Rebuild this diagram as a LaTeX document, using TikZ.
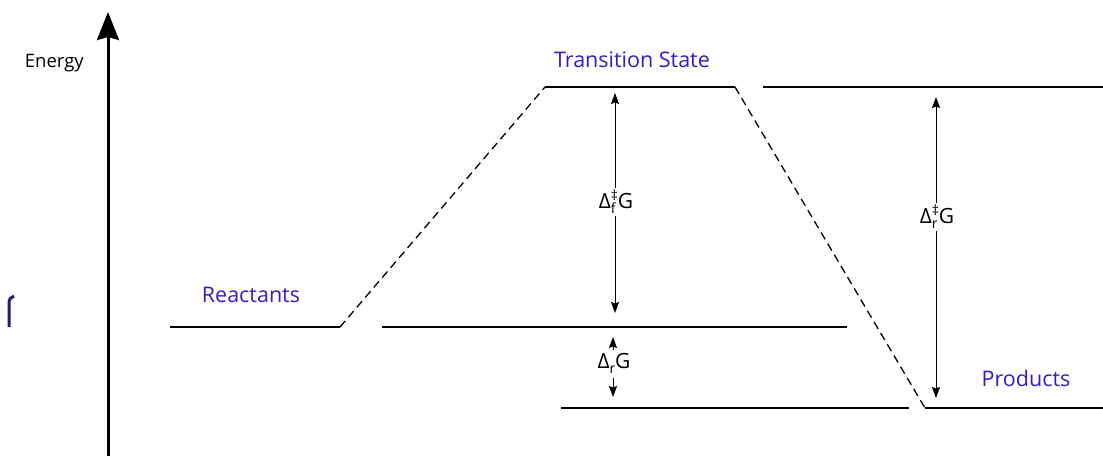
\documentclass[tikz,border=0pt]{standalone}
\usepackage{fontspec}
\setmainfont{Open Sans}
\usetikzlibrary{arrows.meta}
\definecolor{lblue}{RGB}{52,30,190}
\definecolor{navy}{RGB}{40,25,120}
\newcommand{\dlab}[2]{Δ\rlap{\raisebox{-5.5pt}{\fontsize{14}{14}\selectfont #1}}\raisebox{7.5pt}{\fontsize{14}{14}\selectfont #2}G}
\begin{document}
\begin{tikzpicture}[x=1pt,y=-1pt,
  level/.style={line width=1.4pt},
  dashlink/.style={line width=1.3pt,dash pattern=on 8pt off 5pt},
  sarrow/.style={line width=0.9pt,{Stealth[length=11pt,width=8pt,inset=1.5pt]}-{Stealth[length=11pt,width=8pt,inset=1.5pt]}},
  harrow/.style={line width=0.9pt,-{Stealth[length=11pt,width=8pt,inset=1.5pt]}},
  blab/.style={text=lblue,font=\fontsize{21.5}{25}\selectfont,anchor=base,inner sep=0pt},
  dlabel/.style={font=\fontsize{21}{24}\selectfont,anchor=base,fill=white,inner sep=2pt}]
\useasboundingbox (0,0) rectangle (1103,456);
% axis
\coordinate (ax0) at (108,456);
\coordinate (ax1) at (108,12);
\draw[line width=3pt,-{Stealth[length=28pt,width=22pt,inset=3pt]}] (ax0) -- (ax1);
\node[anchor=base east,inner sep=0pt,font=\fontsize{18.5}{22}\selectfont] (energy) at (84,67) {Energy};
% levels
\coordinate (r1) at (170,327); \coordinate (r2) at (340,327);
\coordinate (t1) at (545,87); \coordinate (t2) at (735,87);
\coordinate (p1) at (925,408); \coordinate (p2) at (1103,408);
\coordinate (rx1) at (382,327); \coordinate (rx2) at (847,327);
\coordinate (px1) at (561,408); \coordinate (px2) at (909,408);
\coordinate (tx1) at (763,87); \coordinate (tx2) at (1103,87);
\draw[level] (r1) -- (r2);
\draw[level] (t1) -- (t2);
\draw[level] (p1) -- (p2);
\draw[level] (rx1) -- (rx2);
\draw[level] (px1) -- (px2);
\draw[level] (tx1) -- (tx2);
\draw[dashlink] (r2) -- (t1);
\draw[dashlink] (t2) -- (p1);
% labels
\node[blab] (react) at (251,302) {Reactants};
\node[blab] (ts) at (632,67) {Transition State};
\node[blab] (prod) at (1026,386) {Products};
% forward barrier
\coordinate (fa) at (615,93); \coordinate (fb) at (615,313);
\draw[sarrow] (fa) -- (fb);
\node[dlabel] (dfg) at (616,208) {\dlab{f}{‡}};
% reverse barrier
\coordinate (ra) at (936,97); \coordinate (rb) at (936,398);
\draw[sarrow] (ra) -- (rb);
\node[dlabel] (drg) at (937,223) {\dlab{r}{‡}};
% reaction free energy
\node[font=\fontsize{21}{24}\selectfont,anchor=base,inner sep=1pt] (dg) at (614,368) {Δ\rlap{\raisebox{-5.5pt}{\fontsize{14}{14}\selectfont r}}\phantom{\fontsize{14}{14}\selectfont r}G};
\coordinate (ua) at (613,350); \coordinate (ub) at (613,337);
\coordinate (da) at (613,378); \coordinate (db) at (613,397);
\draw[harrow] (ua) -- (ub);
\draw[harrow] (da) -- (db);
% stray glyph at the left edge
\coordinate (g0) at (9,327);
\draw[navy,line width=3pt] (g0) -- (9,303) .. controls (9,299) and (11,297) .. (14,296);
\end{tikzpicture}
\end{document}
